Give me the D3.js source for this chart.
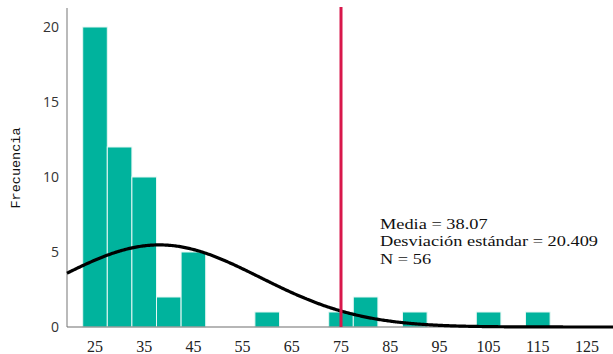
<!DOCTYPE html>
<html>
<head>
<meta charset="utf-8">
<script src="https://cdn.jsdelivr.net/npm/d3@7"></script>
<style>
  html, body { margin: 0; padding: 0; background: #fff; }
  svg { display: block; }
</style>
</head>
<body>
<svg id="chart" width="613" height="354"></svg>
<script>
// Histogram bins (centre of each 5-unit bin) and their frequencies
const binCenters = [25, 30, 35, 40, 45, 60, 75, 80, 90, 105, 115];
const binCounts  = [20, 12, 10, 2, 5, 1, 1, 2, 1, 1, 1];
const binWidth = 5;

// Summary statistics
const mean = 38.07;
const stdDev = 20.409;
const n = 56;
const markerValue = 75;

// Axis tick labels
const xTicks = [25, 35, 45, 55, 65, 75, 85, 95, 105, 115, 125];
const yTicks = [0, 5, 10, 15, 20];

const statLines = [
  "Media = " + mean.toFixed(2),
  "Desviación estándar = " + stdDev.toFixed(3),
  "N = " + n
];

const svg = d3.select("#chart");

const x = d3.scaleLinear().domain([25, 125]).range([95, 587]);
const y = d3.scaleLinear().domain([0, 20]).range([327, 27]);

const plotLeft = 67, plotRight = 613, plotTop = 8, plotBottom = 327;

// Bars
const bins = binCenters.map((c, i) => ({ c, v: binCounts[i] }));
svg.append("g")
  .selectAll("rect")
  .data(bins)
  .join("rect")
  .attr("x", d => x(d.c - binWidth / 2))
  .attr("y", d => y(d.v))
  .attr("width", d => x(d.c + binWidth / 2) - x(d.c - binWidth / 2))
  .attr("height", d => y(0) - y(d.v))
  .attr("fill", "#00b39d")
  .attr("stroke", "#e6f7f4")
  .attr("stroke-width", 1);

// Axes lines
svg.append("line")
  .attr("x1", plotLeft).attr("x2", plotLeft)
  .attr("y1", plotTop).attr("y2", plotBottom)
  .attr("stroke", "#8c8c8c").attr("stroke-width", 1.2);
svg.append("line")
  .attr("x1", plotLeft).attr("x2", plotRight)
  .attr("y1", plotBottom).attr("y2", plotBottom)
  .attr("stroke", "#6e6e6e").attr("stroke-width", 1.2);

// Fitted normal curve scaled to counts per bin
const pdf = v => Math.exp(-0.5 * ((v - mean) / stdDev) ** 2) / (stdDev * Math.sqrt(2 * Math.PI));
const xs = d3.range(x.invert(plotLeft), x.invert(plotRight) + 0.25, 0.25);
const line = d3.line()
  .x(v => x(v))
  .y(v => y(n * binWidth * pdf(v)))
  .curve(d3.curveBasis);
svg.append("path")
  .datum(xs)
  .attr("d", line)
  .attr("fill", "none")
  .attr("stroke", "#000")
  .attr("stroke-width", 3.2);

// Reference line
svg.append("line")
  .attr("x1", x(markerValue)).attr("x2", x(markerValue))
  .attr("y1", plotTop - 1).attr("y2", plotBottom)
  .attr("stroke", "#d8174b").attr("stroke-width", 3);

// Y tick labels
svg.append("g")
  .selectAll("text")
  .data(yTicks)
  .join("text")
  .attr("x", 59)
  .attr("y", d => y(d))
  .attr("dy", "0.35em")
  .attr("text-anchor", "end")
  .attr("font-family", "'Open Sans', 'DejaVu Sans', sans-serif")
  .attr("font-size", 14)
  .attr("fill", "#333")
  .text(d => d);

// X tick labels
svg.append("g")
  .selectAll("text")
  .data(xTicks)
  .join("text")
  .attr("x", d => x(d))
  .attr("y", 352)
  .attr("text-anchor", "middle")
  .attr("font-family", "'Liberation Serif', serif")
  .attr("font-size", 16)
  .attr("fill", "#222")
  .text(d => d);

// Y axis title
svg.append("text")
  .attr("transform", "translate(20,168) rotate(-90)")
  .attr("text-anchor", "middle")
  .attr("font-family", "'Liberation Mono', monospace")
  .attr("font-size", 13.5)
  .attr("fill", "#111")
  .text("Frecuencia");

// Statistics annotation: slightly widened serif lines
const statText = svg.append("g")
  .selectAll("text")
  .data(statLines)
  .join("text")
  .attr("x", 380)
  .attr("y", (d, i) => 228.5 + i * 17.5)
  .attr("font-family", "'Liberation Serif', serif")
  .attr("font-size", 15.5)
  .attr("fill", "#111")
  .text(d => d);
const widest = statText.nodes()[1].getComputedTextLength();
const stretch = 218 / widest;
statText.each(function () {
  const w = this.getComputedTextLength();
  d3.select(this)
    .attr("textLength", w * stretch)
    .attr("lengthAdjust", "spacingAndGlyphs");
});
</script>
</body>
</html>
